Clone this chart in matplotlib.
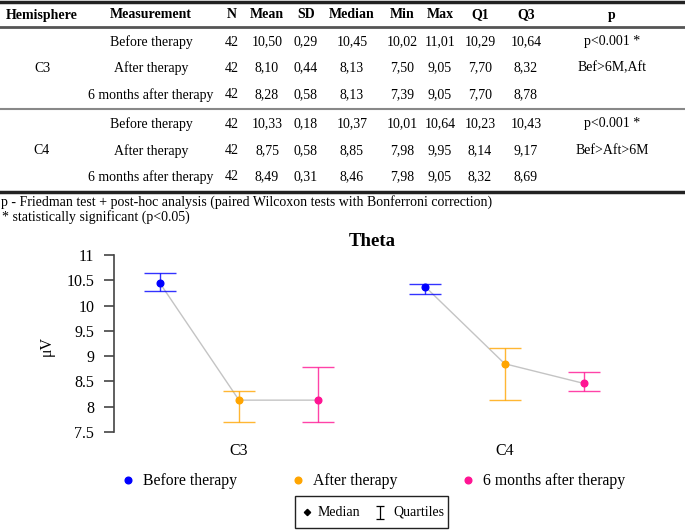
import matplotlib
matplotlib.use("Agg")
import matplotlib.pyplot as plt
from matplotlib.lines import Line2D
from matplotlib.patches import Rectangle

# ---------------- data ----------------
hemispheres = ["C3", "C4"]
measurements = ["Before therapy", "After therapy", "6 months after therapy"]
n_vals = [[42, 42, 42], [42, 42, 42]]
mean_vals = [[10.50, 8.10, 8.28], [10.33, 8.75, 8.49]]
sd_vals = [[0.29, 0.44, 0.58], [0.18, 0.58, 0.31]]
median_vals = [[10.45, 8.13, 8.13], [10.37, 8.85, 8.46]]
min_vals = [[10.02, 7.50, 7.39], [10.01, 7.98, 7.98]]
max_vals = [[11.01, 9.05, 9.05], [10.64, 9.95, 9.05]]
q1_vals = [[10.29, 7.70, 7.70], [10.23, 8.14, 8.32]]
q3_vals = [[10.64, 8.32, 8.78], [10.43, 9.17, 8.69]]
p_texts = [["p<0.001 *", "Bef>6M,Aft", ""], ["p<0.001 *", "Bef>Aft>6M", ""]]
headers = ["Hemisphere", "Measurement", "N", "Mean", "SD", "Median", "Min", "Max", "Q1", "Q3", "p"]
footnotes = ["p - Friedman test + post-hoc analysis (paired Wilcoxon tests with Bonferroni correction)",
             "* statistically significant (p<0.05)"]
series_colors = ["#0000ff", "#ffa500", "#ff1493"]
yticks = [7.5, 8, 8.5, 9, 9.5, 10, 10.5, 11]

W, H = 685, 530
fig = plt.figure(figsize=(W / 100, H / 100), dpi=100)
SERIF = "Liberation Serif"


def fx(x):
    return x / W


def fy(y):
    return 1 - y / H


def fmt(v):
    return f"{v:.2f}".replace(".", ",")


# ---------------- table ----------------
col_x = [42, 151, 232, 267, 306, 352, 402, 440, 480, 526, 612]
header_y = 15
row_y = [[42, 68, 95], [124, 151, 177]]
fs = 10

for h, x in zip(headers, col_x):
    fig.text(fx(x), fy(header_y), h, ha="center", va="center", fontsize=fs,
             fontweight="bold", family=SERIF)

for g, hemi in enumerate(hemispheres):
    fig.text(fx(col_x[0]), fy(row_y[g][1]), hemi, ha="center", va="center",
             fontsize=fs, family=SERIF)
    for j, meas in enumerate(measurements):
        y = fy(row_y[g][j])
        cells = [meas, str(n_vals[g][j]), fmt(mean_vals[g][j]), fmt(sd_vals[g][j]),
                 fmt(median_vals[g][j]), fmt(min_vals[g][j]), fmt(max_vals[g][j]),
                 fmt(q1_vals[g][j]), fmt(q3_vals[g][j]), p_texts[g][j]]
        for c, x in zip(cells, col_x[1:]):
            fig.text(fx(x), y, c, ha="center", va="center", fontsize=fs, family=SERIF)

for y, lw, col in [(1.5, 2.5, "#222222"), (27, 2.0, "#555555"),
                   (109, 1.5, "#888888"), (192, 2.5, "#222222")]:
    fig.add_artist(Line2D([0, 1], [fy(y), fy(y)], transform=fig.transFigure,
                          color=col, lw=lw))

fig.text(fx(1), fy(202), footnotes[0], ha="left", va="center", fontsize=fs, family=SERIF)
fig.text(fx(2), fy(217), footnotes[1], ha="left", va="center", fontsize=fs, family=SERIF)

# ---------------- chart ----------------
ax_left, ax_right, ax_top, ax_bot = 114, 650, 255, 432
ax = fig.add_axes([fx(ax_left), fy(ax_bot), (ax_right - ax_left) / W, (ax_bot - ax_top) / H])
px_per_unit = 79.3
xmin = -(239 - ax_left) / px_per_unit
xmax = xmin + (ax_right - ax_left) / px_per_unit
ax.set_xlim(xmin, xmax)
ax.set_ylim(7.5, 11)

group_centers = [0, 3.35]
offsets = [-1, 0, 1]
for g in range(len(hemispheres)):
    xs = [group_centers[g] + o for o in offsets]
    ax.plot(xs, median_vals[g], color="#c4c4c4", lw=1.0, zorder=1)
    for j in range(3):
        med = median_vals[g][j]
        ax.errorbar(xs[j], med, yerr=[[med - q1_vals[g][j]], [q3_vals[g][j] - med]],
                    fmt="none", ecolor=series_colors[j], elinewidth=1.0, capsize=11.5,
                    capthick=1.0, alpha=0.8, zorder=2)
        ax.plot(xs[j], med, "o", color=series_colors[j], ms=4.8, zorder=3)

for s in ["top", "right", "bottom"]:
    ax.spines[s].set_visible(False)
ax.spines["left"].set_color("#444444")
ax.spines["left"].set_linewidth(1.2)
ax.set_yticks(yticks)
ax.set_yticklabels([f"{t:g}" for t in yticks], family=SERIF, fontsize=11.5)
ax.tick_params(axis="y", length=7.2, width=1.2, color="#444444", pad=7)
ax.set_xticks(group_centers)
ax.set_xticklabels(hemispheres, family=SERIF, fontsize=11.5)
ax.tick_params(axis="x", length=0, pad=8)
ax.patch.set_alpha(0)

fig.text(fx(47), fy(346), "μV", rotation=90, ha="center", va="center", fontsize=11.5,
         family=SERIF)
fig.text(fx(372), fy(241), "Theta", ha="center", va="center", fontsize=13.5,
         fontweight="bold", family=SERIF)

# ---------------- legends ----------------
leg = fig.add_axes([0, 0, 1, 1])
leg.set_xlim(0, W)
leg.set_ylim(H, 0)
leg.axis("off")
leg.patch.set_alpha(0)
leg_x = [128, 298, 468]
for j, meas in enumerate(measurements):
    leg.plot(leg_x[j], 480, "o", color=series_colors[j], ms=4.8)
    leg.text(leg_x[j] + 15, 481, meas, ha="left", va="center", fontsize=11.3, family=SERIF)

leg.add_patch(Rectangle((295, 496), 153, 32, fill=False, edgecolor="#222222", lw=1.0))
leg.plot(307, 512, "D", color="black", ms=3.2)
leg.text(318, 512, "Median", ha="left", va="center", fontsize=10, family=SERIF)
leg.errorbar(380, 512, yerr=6.5, fmt="none", ecolor="black", elinewidth=0.9, capsize=3,
             capthick=0.9)
leg.text(393, 512, "Quartiles", ha="left", va="center", fontsize=10, family=SERIF)

fig.savefig("out.png", dpi=100)
